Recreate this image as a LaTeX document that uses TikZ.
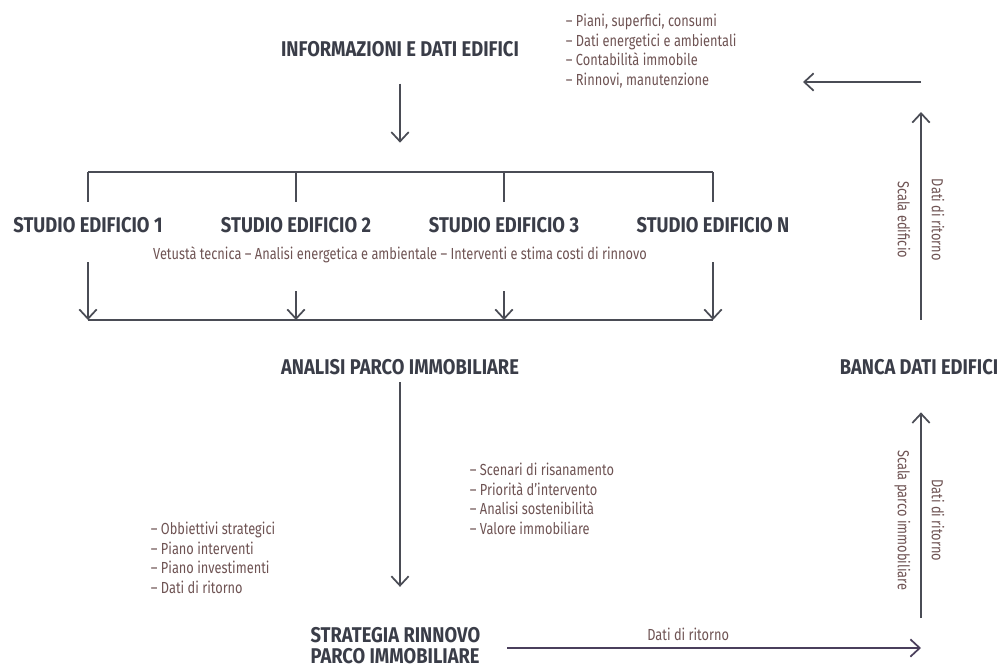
\documentclass[tikz,border=0pt]{standalone}
\usepackage{fontspec}
\setmainfont{Fira Sans}[FakeStretch=0.8]
\newfontfamily\fonttitolo{Fira Sans}[FakeStretch=0.86]
\usepackage{xcolor}
\usetikzlibrary{arrows.meta}

\definecolor{scuro}{HTML}{3A3D48}
\definecolor{marrone}{HTML}{6E5353}
\definecolor{grigio}{HTML}{4A4C55}
\definecolor{viola}{HTML}{4A3F5C}

\begin{document}
\begin{tikzpicture}[x=0.75pt,y=-0.75pt,
    titolo/.style={font=\fonttitolo\fontsize{16}{16}\selectfont\bfseries, text=scuro, inner sep=1pt},
    voce/.style={font=\fontsize{12}{14.8}\selectfont, text=marrone, inner sep=2pt},
    elenco/.style={voce, align=left, anchor=north west},
    ruotata/.style={voce, rotate=-90, outer sep=6pt},
    linea/.style={draw=grigio, line width=1.3pt},
    freccia/.style={linea, -{Straight Barb[length=7pt,width=13pt,line width=1.3pt]}}]
  \useasboundingbox (0,0) rectangle (1004,668);

  % nodi
  \node[titolo] (info) at (400,49) {INFORMAZIONI E DATI EDIFICI};
  \node[elenco] (listaedifici) at (563,11)
    {-- Piani, superfici, consumi\\ -- Dati energetici e ambientali\\ -- Contabilità immobile\\ -- Rinnovi, manutenzione};
  \node[titolo] (s1) at (88,225) {STUDIO EDIFICIO 1};
  \node[titolo] (s2) at (296,225) {STUDIO EDIFICIO 2};
  \node[titolo] (s3) at (504,225) {STUDIO EDIFICIO 3};
  \node[titolo] (sN) at (713,225) {STUDIO EDIFICIO N};
  \node[voce] (studio) at (400,255) {Vetustà tecnica -- Analisi energetica e ambientale -- Interventi e stima costi di rinnovo};
  \node[titolo] (analisi) at (400,367) {ANALISI PARCO IMMOBILIARE};
  \node[titolo] (banca) at (919,367) {BANCA DATI EDIFICI};
  \node[elenco] (risultati) at (467,460)
    {-- Scenari di risanamento\\ -- Priorità d’intervento\\ -- Analisi sostenibilità\\ -- Valore immobiliare};
  \node[elenco] (obbiettivi) at (148,519)
    {-- Obbiettivi strategici\\ -- Piano interventi\\ -- Piano investimenti\\ -- Dati di ritorno};
  \node[titolo, align=left, anchor=west] (strategia) at (309,645.5) {STRATEGIA RINNOVO\\PARCO IMMOBILIARE};

  \coordinate (sbarra) at (400,172);
  \coordinate (sfine) at (400,202);
  \coordinate (gA) at (400,262);
  \coordinate (gB) at (400,291);
  \coordinate (gbarra) at (400,320);
  \coordinate (angolosu) at (921,82);
  \coordinate (frecciasx) at (803,82);
  \coordinate (angologiu) at (921,648);

  % connettori
  \draw[freccia, shorten <=19pt, shorten >=22pt] (info.south) -- (info.south |- sbarra);
  \draw[linea] (s1 |- sbarra) -- (sN |- sbarra);
  \foreach \s in {s1,s2,s3,sN}
    \draw[linea] (\s |- sbarra) -- (\s |- sfine);
  \foreach \s/\p in {s1/gA,s2/gB,s3/gB,sN/gA}
    \draw[freccia] (\s |- \p) -- (\s |- gbarra);
  \draw[linea] (s1 |- gbarra) -- (sN |- gbarra);
  \draw[freccia, shorten <=4.5pt, shorten >=29pt] (analisi.south) -- (analisi.south |- strategia.north);
  \draw[freccia, draw=viola, shorten <=19pt] (strategia.east |- angologiu) -- (angologiu)
    node[voce, pos=0.47, above=3pt] {Dati di ritorno};
  \draw[freccia, shorten <=22.5pt, shorten >=27pt] (angologiu) -- (banca.south -| angologiu)
    node[ruotata, pos=0.47, anchor=north] {Scala parco immobiliare}
    node[ruotata, pos=0.47, anchor=south] {Dati di ritorno};
  \draw[freccia, shorten <=28.5pt, shorten >=22.5pt] (banca.north -| angolosu) -- (angolosu)
    node[ruotata, midway, anchor=north] {Scala edificio}
    node[ruotata, midway, anchor=south] {Dati di ritorno};
  \draw[freccia] (angolosu) -- (frecciasx);
\end{tikzpicture}
\end{document}
